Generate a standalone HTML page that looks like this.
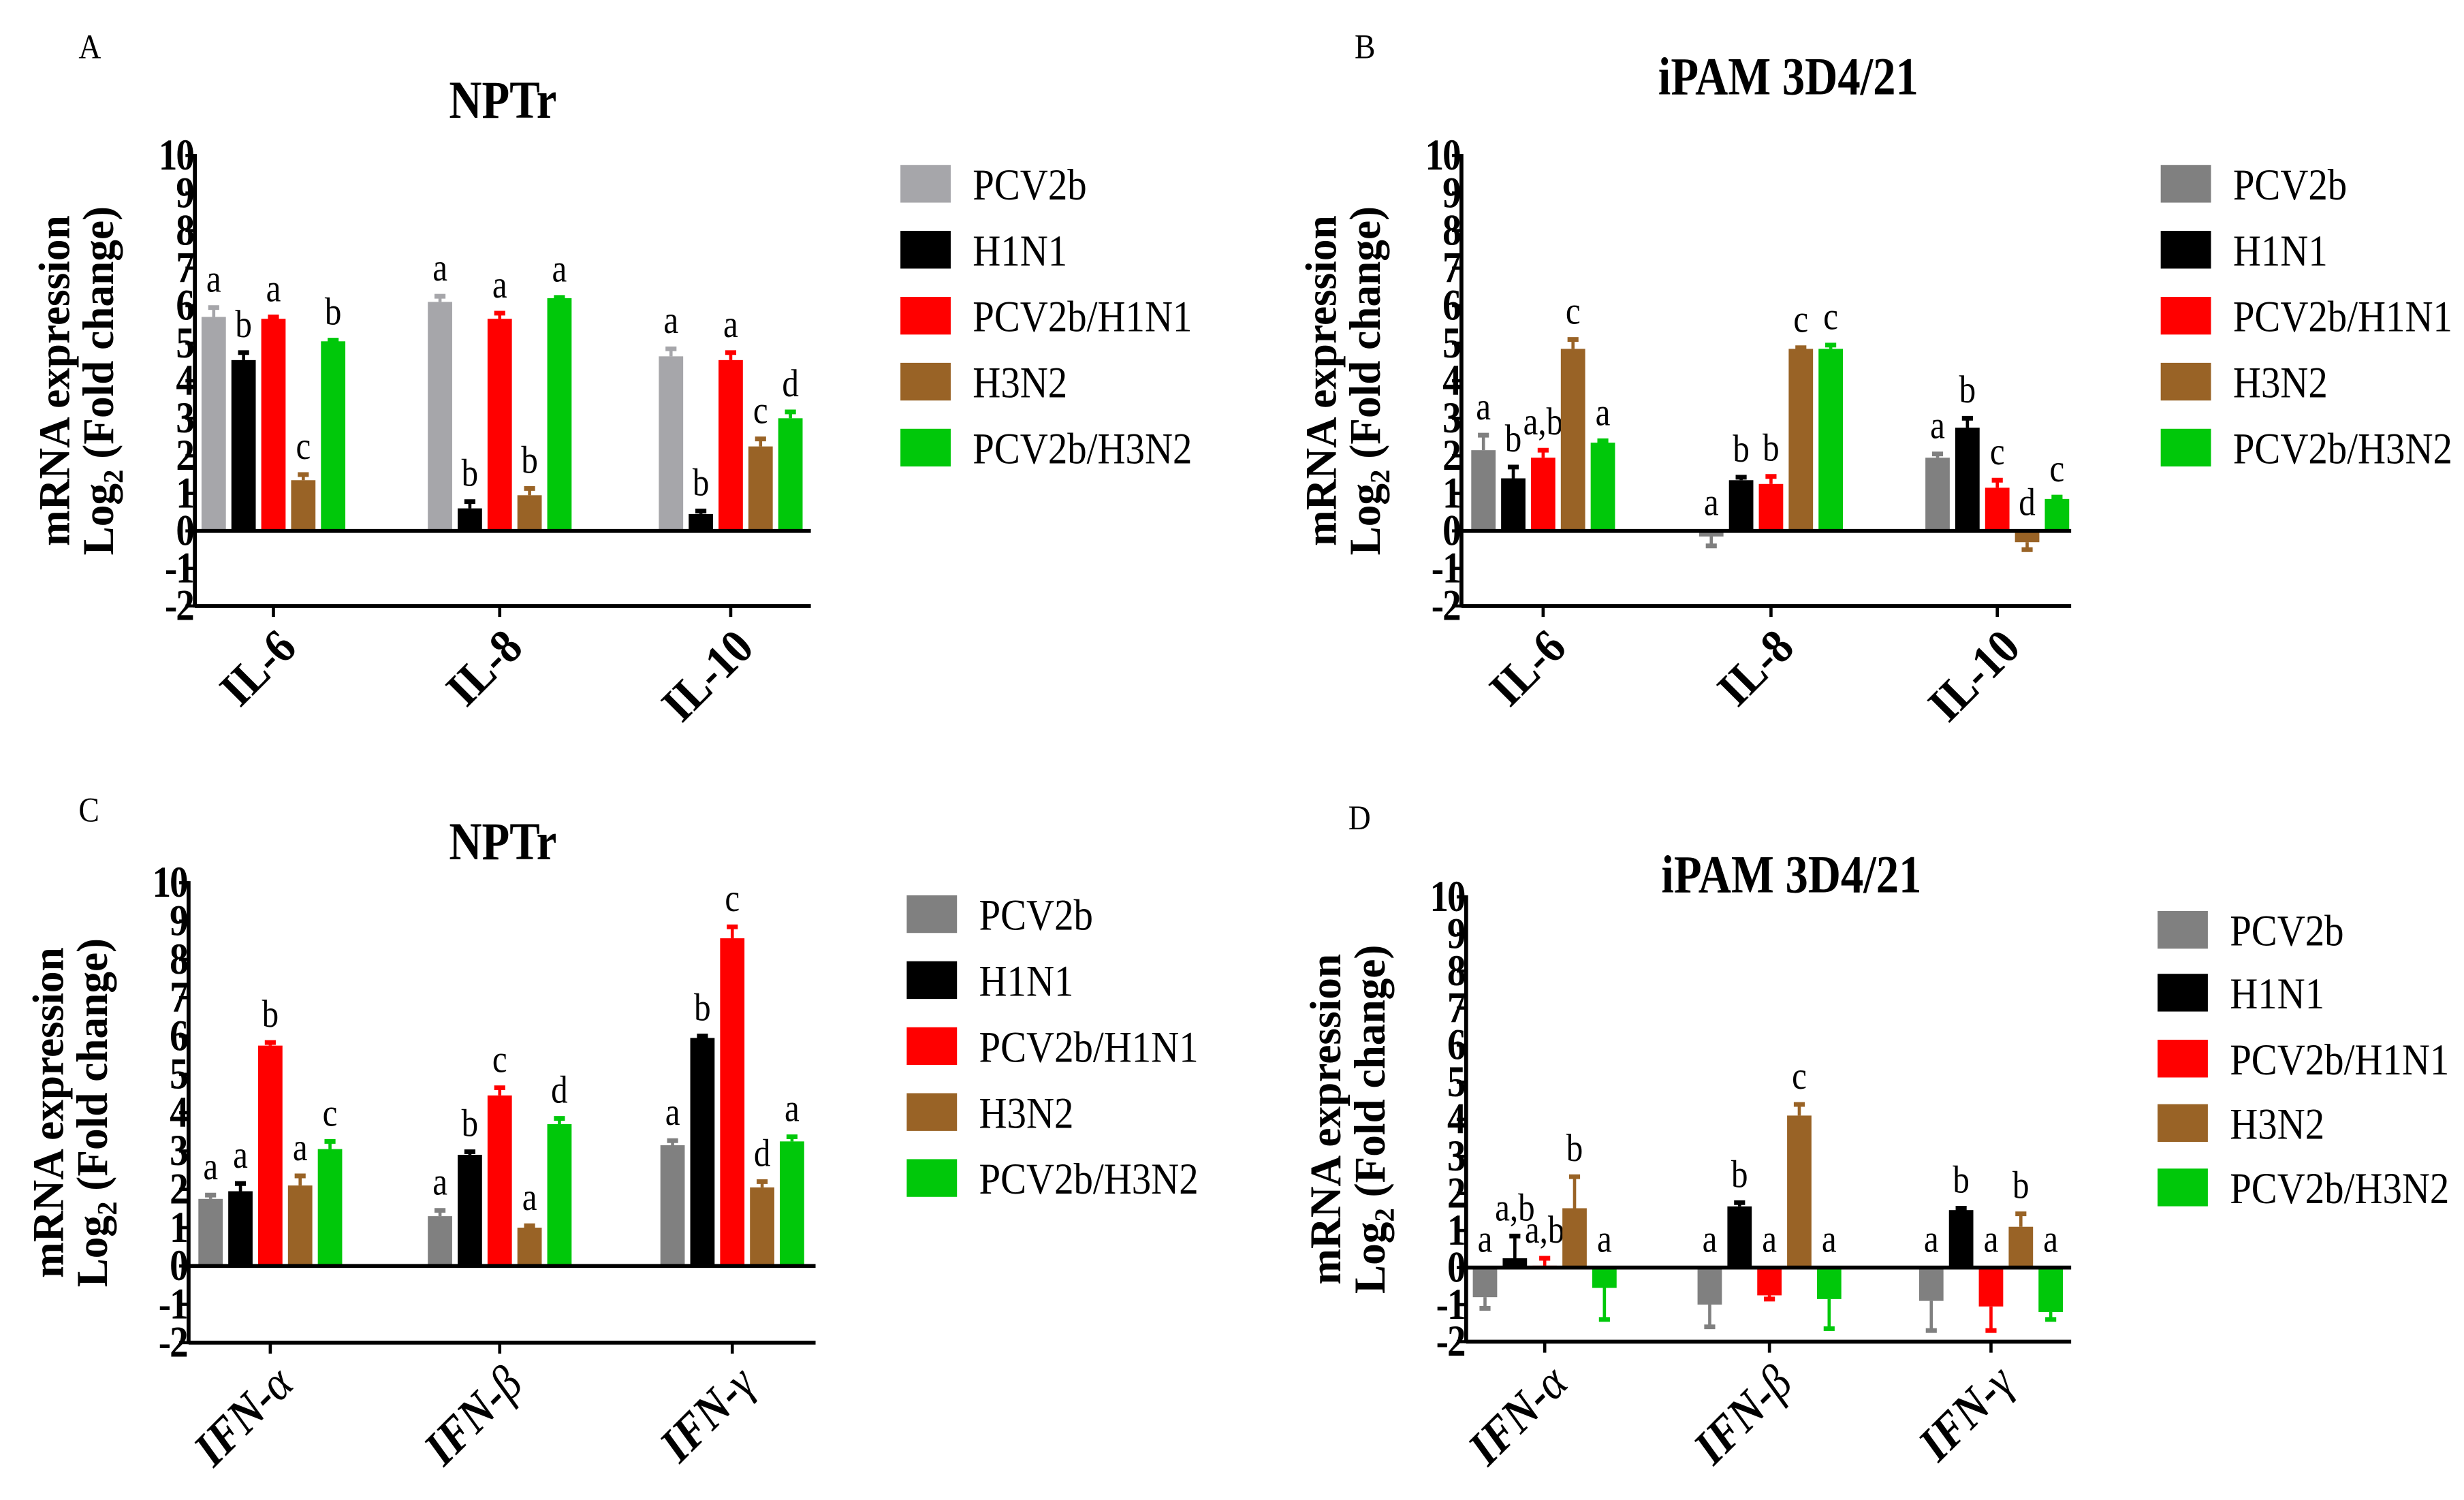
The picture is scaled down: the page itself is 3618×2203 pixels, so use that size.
<!DOCTYPE html>
<html><head><meta charset="utf-8"><style>
html,body{margin:0;padding:0;background:#fff}
svg{display:block}
text{font-family:"Liberation Serif",serif;fill:#000}
</style></head><body>
<svg id="fig" width="3618" height="2203" viewBox="0 0 1568 955" preserveAspectRatio="none" xmlns="http://www.w3.org/2000/svg"></svg>
<script>
const seriesNames = ["PCV2b","H1N1","PCV2b/H1N1","H3N2","PCV2b/H3N2"];
const catsIL = ["IL-6","IL-8","IL-10"];
const catsIFN = ["α","β","γ"];
const yTicks = [-2,-1,0,1,2,3,4,5,6,7,8,9,10];
const valsA = [[5.7,4.55,5.65,1.35,5.05],[6.1,0.6,5.65,0.95,6.2],[4.65,0.45,4.55,2.25,3.0]];
const errsA = [[0.25,0.2,0.05,0.15,0.03],[0.15,0.18,0.15,0.18,0.02],[0.2,0.08,0.2,0.2,0.17]];
const letA = [["a","b","a","c","b"],["a","b","a","b","a"],["a","b","a","c","d"]];
const valsB = [[2.15,1.4,1.95,4.85,2.35],[-0.15,1.35,1.25,4.85,4.85],[1.95,2.75,1.15,-0.3,0.85]];
const errsB = [[0.4,0.3,0.2,0.25,0.05],[0.25,0.08,0.2,0.03,0.1],[0.1,0.25,0.2,0.2,0.05]];
const letB = [["a","b","a,b","c","a"],["a","b","b","c","c"],["a","b","c","d","c"]];
const valsC = [[1.75,1.95,5.75,2.1,3.05],[1.3,2.9,4.45,1.0,3.7],[3.15,5.95,8.55,2.05,3.25]];
const errsC = [[0.1,0.2,0.08,0.25,0.2],[0.15,0.08,0.2,0.05,0.15],[0.12,0.05,0.3,0.15,0.12]];
const letC = [["a","a","b","a","c"],["a","b","c","a","d"],["a","b","c","d","a"]];
const valsD = [[-0.8,0.25,0.05,1.6,-0.55],[-1.0,1.65,-0.75,4.1,-0.85],[-0.9,1.55,-1.05,1.1,-1.2]];
const errsD = [[0.3,0.6,0.2,0.85,0.85],[0.6,0.1,0.1,0.3,0.8],[0.8,0.05,0.65,0.35,0.2]];
const letD = [["a","a,b","a,b","b","a"],["a","b","a","c","a"],["a","b","a","b","a"]];

const NS="http://www.w3.org/2000/svg";
const svg=document.getElementById('fig');
function mk(tag,attrs,parent,txt){const e=document.createElementNS(NS,tag);for(const k in attrs)e.setAttribute(k,attrs[k]);if(txt!==undefined)e.textContent=txt;(parent||svg).appendChild(e);return e;}
function txt(parent,x,y,str,size,sx,anchor,extra,rot){
  const a=Object.assign({x:0,y:0,'font-size':size,'text-anchor':anchor||'start',transform:`translate(${x},${y})${rot?` rotate(${rot})`:''} scale(${sx},1)`},extra||{});
  return mk('text',a,parent,str);
}

function panel(o){
  const g=mk('g',{});
  
  
  const yS=v=>o.y0-(v*(o.y0-o.y10)/10);
  const t1=txt(g,o.lx,o.ly,o.id.toUpperCase(),22,0.9);
  
  const t2=txt(g,o.tx,o.ty,o.title,34,0.85,'middle',{'font-weight':'bold'});
  
  const cy=(o.y10+yS(-2))/2;
  const ya=mk('text',{x:0,y:0,'font-size':28,'font-weight':'bold','text-anchor':'middle',transform:`translate(${o.ax-80},${cy}) rotate(-90) scale(0.98,1)`},g,'mRNA expression');
  
  const yb=mk('text',{x:0,y:0,'font-size':28,'font-weight':'bold','text-anchor':'middle',transform:`translate(${o.ax-52},${cy}) rotate(-90) scale(0.98,1)`},g);
  
  mk('tspan',{},yb,'Log');mk('tspan',{'font-size':18,dy:6},yb,'2');mk('tspan',{dy:-6},yb,' (Fold change)');
  const colors=[o.gray,'#000000','#ff0000','#996326','#00c80a'];
  const bw=15.5, sp=19;
  o.vals.forEach((row,ci)=>{
    const cx=o.ticks[ci];
    row.forEach((v,si)=>{
      const x=cx+(si-2)*sp;
      const e=o.errs[ci][si];
      const y0=yS(0), yv=yS(v);
      const r=mk('rect',{x:x-bw/2,y:Math.min(y0,yv),width:bw,height:Math.max(0.8,Math.abs(yv-y0)),fill:colors[si]},g);
      
      
      const ye=yS(v+(v>=0?e:-e));
      mk('line',{x1:x,x2:x,y1:yv,y2:ye,stroke:colors[si],'stroke-width':2},g);
      mk('line',{x1:x-3.5,x2:x+3.5,y1:ye,y2:ye,stroke:colors[si],'stroke-width':3},g);
      const top=v>=0?ye:y0;
      const lt=txt(g,x,Math.min(top,y0)-10,o.lets[ci][si],25,0.85,'middle');
      
    });
  });
  const yl=mk('line',{x1:o.ax,x2:o.ax,y1:o.y10-1,y2:yS(-2)+1,stroke:'#000','stroke-width':2.5},g);
  
  const xl=mk('line',{x1:o.ax,x2:o.axEnd,y1:yS(0),y2:yS(0),stroke:'#000','stroke-width':2.5},g);
  
  const xb=mk('line',{x1:o.ax,x2:o.axEnd,y1:yS(-2),y2:yS(-2),stroke:'#000','stroke-width':2.5},g);
  
  yTicks.forEach(t=>{
    mk('line',{x1:o.ax-6,x2:o.ax,y1:yS(t),y2:yS(t),stroke:'#000','stroke-width':2},g);
    const tl=txt(g,o.ax-1,yS(t)+9,String(t),28,0.85,'end',{'font-weight':'bold','letter-spacing':-1});
    
  });
  o.ticks.forEach((tx,ci)=>{
    mk('line',{x1:tx,x2:tx,y1:yS(-2),y2:yS(-2)+7,stroke:'#000','stroke-width':2},g);
    const xt=mk('text',{x:0,y:0,'font-size':31,'font-weight':'bold','text-anchor':'end',transform:`translate(${tx+16},${yS(-2)+28}) rotate(-45) scale(0.9,1)`},g);
    
    if(o.ifn){mk('tspan',{'font-style':'italic'},xt,'IFN-');mk('tspan',{'font-style':'italic','font-weight':'normal'},xt,o.cats[ci]);}
    else xt.textContent=o.cats[ci];
  });
  seriesNames.forEach((n,i)=>{
    const y=o.legY[i];
    const sw=mk('rect',{x:o.legX,y:y-12,width:32,height:24,fill:colors[i]},g);
    
    const lt=txt(g,o.legX+46,y+10,n,28,0.88);
    
  });
}
panel({id:'a',title:'NPTr',lx:50,ly:37,tx:320,ty:75,ax:124,axEnd:516,y10:99,y0:338,ticks:[174,318,465],vals:valsA,errs:errsA,lets:letA,cats:catsIL,gray:'#a6a6aa',legX:573,legY:[117,159,201,243,285]});
panel({id:'b',title:'iPAM 3D4/21',lx:862,ly:37,tx:1138,ty:60,ax:930,axEnd:1318,y10:99,y0:338,ticks:[982,1127,1271],vals:valsB,errs:errsB,lets:letB,cats:catsIL,gray:'#808080',legX:1375,legY:[117,159,201,243,285]});
panel({id:'c',title:'NPTr',lx:50,ly:523,tx:320,ty:547,ax:120,axEnd:519,y10:562,y0:806,ticks:[172,318,466],vals:valsC,errs:errsC,lets:letC,cats:catsIFN,ifn:true,gray:'#808080',legX:577,legY:[582,624,666,708,750]});
panel({id:'d',title:'iPAM 3D4/21',lx:858,ly:528,tx:1140,ty:568,ax:933,axEnd:1318,y10:571,y0:807,ticks:[983,1126,1267],vals:valsD,errs:errsD,lets:letD,cats:catsIFN,ifn:true,gray:'#808080',legX:1373,legY:[592,632,674,715,756]});
</script>
</body></html>
